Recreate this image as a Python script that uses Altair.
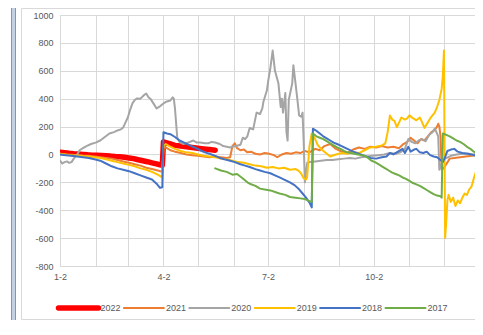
import altair as alt
import pandas as pd

years = ["2022", "2021", "2020", "2019", "2018", "2017"]
colors = ["#FF0000", "#ED7D31", "#A5A5A5", "#FFC000", "#4472C4", "#70AD47"]

# (day offset from Jan-2, value)
s2022 = [(0,15),(4,12),(8,8),(12,5),(16,3),(20,0),(24,-3),(28,-5),(32,-6),(36,-8),(40,-10),(44,-12),
         (48,-15),(52,-17),(56,-20),(60,-25),(64,-30),(68,-38),(72,-45),(76,-52),(80,-60),(84,-68),
         (87,-75),(89,-78),(90,90),(92,85),(96,75),(100,65),(105,60),(110,55),(115,50),(120,45),
         (125,40),(130,35),(135,30)]
s2021 = [(0,5),(5,0),(10,-2),(15,-5),(20,-8),(25,-10),(30,-15),(35,-20),(40,-25),(45,-30),(50,-40),
         (55,-50),(60,-60),(65,-70),(70,-80),(75,-95),(80,-105),(85,-115),(89,-125),(90,60),(93,45),
         (96,30),(100,20),(105,10),(110,0),(115,-5),(120,-10),(125,-15),(130,-20),(135,-15),(140,-20),
         (145,-25),(148,-20),(150,60),(152,80),(154,45),(157,30),(160,35),(163,15),(166,20),(170,5),
         (174,0),(178,10),(182,5),(186,-5),(189,-20),(193,0),(197,10),(201,5),(205,15),(209,10),
         (213,25),(217,15),(222,40),(226,30),(230,60),(235,75),(240,40),(245,20),(250,10),(255,35),
         (260,50),(265,40),(270,55),(275,50),(280,60),(285,50),(290,55),(295,45),(298,70),(302,90),
         (305,120),(308,100),(311,80),(314,110),(317,100),(320,130),(323,160),(326,175),(328,200),
         (329,220),(330,200),(331,130),(332,-110),(334,-95),(336,-70),(339,-30),(343,-25),(348,-20),
         (353,-15),(358,-10),(363,-5)]
s2020 = [(0,-45),(2,-65),(4,-55),(6,-50),(8,-60),(10,-55),(12,-30),(15,0),(17,30),(20,45),(23,60),
         (27,75),(31,85),(35,100),(39,125),(43,150),(47,160),(50,172),(53,180),(55,194),(57,230),
         (59,265),(61,320),(63,366),(65,390),(67,402),(70,400),(73,425),(75,437),(77,410),(79,395),
         (81,370),(84,330),(87,345),(90,366),(93,380),(96,387),(98,409),(99,400),(100,330),(102,120),
         (104,90),(107,75),(110,80),(113,90),(116,100),(119,85),(122,85),(126,80),(129,80),(132,90),
         (135,86),(139,75),(142,60),(145,55),(148,50),(150,55),(153,60),(157,70),(159,120),(161,110),
         (163,130),(165,190),(168,180),(171,300),(174,290),(176,330),(177,380),(180,460),(181,520),
         (183,620),(185,745),(187,600),(190,510),(192,340),(193,400),(194,300),(196,440),(197,160),
         (198,100),(199,390),(202,510),(203,640),(206,430),(208,280),(210,270),(211,300),(212,90),
         (213,-200),(215,-60),(217,-55),(222,-50),(227,-45),(232,-40),(237,-40),(242,-35),(247,-30),
         (252,-25),(257,-30),(262,-20),(267,-15),(272,-10),(277,-5),(282,0),(287,10),(292,5),(296,15),
         (300,40),(303,110),(306,90),(309,80),(312,100),(315,110),(318,95),(321,140),(324,160),
         (326,185),(328,150),(329,130),(330,-110),(332,-60),(335,-30),(340,-10),(345,0),(350,5),
         (355,5),(360,0),(363,5)]
s2019 = [(0,5),(5,0),(10,-5),(15,-8),(20,-12),(25,-15),(30,-20),(35,-25),(40,-35),(45,-45),(50,-55),
         (55,-65),(60,-75),(65,-85),(70,-100),(75,-110),(80,-125),(85,-145),(89,-165),(90,60),(92,75),
         (95,60),(100,40),(105,25),(110,15),(115,10),(120,0),(125,-10),(130,-15),(135,-20),(140,-30),
         (145,-35),(150,-45),(155,-55),(160,-60),(165,-70),(170,-80),(175,-85),(180,-95),(185,-90),
         (190,-100),(195,-95),(200,-110),(205,-105),(208,-120),(210,-140),(212,-170),(214,-180),
         (215,-160),(217,60),(219,150),(222,110),(224,70),(227,40),(230,20),(235,-15),(240,0),(245,10),
         (250,5),(255,15),(260,10),(265,30),(270,50),(275,55),(280,65),(283,80),(285,160),(287,280),
         (289,250),(291,240),(293,195),(295,230),(297,265),(300,250),(302,258),(304,280),(307,260),
         (310,245),(313,265),(315,230),(317,190),(320,230),(322,258),(324,280),(326,300),(328,340),
         (330,390),(332,470),(333,560),(334,745),(335,-600),(336,-480),(337,-330),(338,-290),(340,-340),
         (342,-310),(344,-370),(346,-330),(348,-350),(350,-310),(352,-280),(354,-290),(356,-250),
         (358,-230),(360,-170),(362,-120),(363,-65)]
s2018 = [(0,0),(5,-5),(10,-10),(15,-15),(20,-20),(25,-25),(30,-35),(35,-45),(40,-65),(45,-85),(50,-100),
         (55,-110),(60,-120),(65,-135),(70,-150),(75,-165),(80,-180),(84,-210),(87,-240),(89,-235),
         (90,160),(93,150),(96,145),(100,125),(104,100),(108,85),(113,65),(117,50),(122,30),(126,15),
         (130,5),(135,-10),(139,-25),(143,-35),(148,-45),(152,-55),(157,-70),(161,-80),(165,-90),
         (170,-105),(174,-115),(178,-125),(183,-135),(187,-150),(191,-165),(195,-180),(200,-200),
         (204,-220),(208,-250),(211,-280),(214,-310),(217,-345),(219,-380),(220,185),(223,170),
         (226,150),(229,130),(232,115),(235,100),(238,85),(241,75),(245,60),(250,40),(255,20),(260,5),
         (265,-10),(270,-25),(275,-30),(280,-20),(284,-15),(287,10),(290,0),(294,20),(298,40),(300,10),
         (303,55),(305,20),(308,35),(310,40),(313,15),(316,10),(319,20),(322,-5),(325,-15),(328,-20),
         (331,-40),(333,-55),(335,-20),(337,25),(340,35),(343,40),(346,20),(350,10),(355,5),(360,-5),
         (363,-5)]
s2017 = [(135,-100),(140,-115),(145,-125),(150,-145),(154,-140),(158,-165),(163,-200),(165,-210),
         (170,-225),(174,-245),(177,-250),(183,-258),(189,-275),(191,-280),(196,-290),(200,-305),
         (205,-310),(209,-315),(213,-320),(217,-335),(219,-340),(220,150),(223,130),(226,120),(229,110),
         (232,95),(235,80),(238,65),(241,50),(244,40),(247,25),(250,15),(253,10),(256,5),(259,0),
         (262,-5),(265,-10),(268,-25),(271,-45),(274,-55),(277,-70),(280,-85),(283,-100),(286,-115),
         (289,-130),(292,-140),(295,-150),(298,-165),(301,-175),(304,-190),(307,-205),(310,-215),
         (313,-225),(316,-240),(319,-255),(322,-270),(325,-285),(328,-295),(331,-300),(332,-310),
         (333,150),(336,140),(339,130),(342,115),(345,100),(348,90),(351,75),(354,55),(357,40),
         (360,20),(363,5)]

tick_days = [0, 31, 59, 90, 120, 151, 181, 212, 243, 273, 304, 334]
tick_labels = ["1-2", "", "", "4-2", "", "", "7-2", "", "", "10-2", "", ""]
y_ticks = [-800, -600, -400, -200, 0, 200, 400, 600, 800, 1000]

series = dict(zip(years, [s2022, s2021, s2020, s2019, s2018, s2017]))
rows = []
for yr in years:
    for d, v in series[yr]:
        rows.append({"year": yr, "day": d, "value": v})
df = pd.DataFrame(rows)
leg_df = pd.DataFrame({"year": years})

label_expr = " : ".join(
    f"datum.value == {d} ? '{l}'" for d, l in zip(tick_days, tick_labels) if l
) + " : ''"

FONT = "Liberation Sans"
TXT = "#595959"
GRID = "#d9d9d9"
color_scale = alt.Scale(domain=years, range=colors)
thick = alt.condition(alt.datum.year == "2022", alt.value(5.5), alt.value(2))

lines = alt.Chart(df).mark_line(strokeJoin="round", strokeCap="round", clip=True).encode(
    x=alt.X("day:Q",
            scale=alt.Scale(domain=[0, 361], nice=False, zero=False),
            axis=alt.Axis(values=tick_days, labelExpr=label_expr, title=None, grid=True,
                          gridColor=GRID, ticks=False, domain=False, labelOverlap=False,
                          labelPadding=6, labelFlush=False, labelFont=FONT, labelFontSize=9,
                          labelColor=TXT)),
    y=alt.Y("value:Q",
            scale=alt.Scale(domain=[-800, 1000], nice=False),
            axis=alt.Axis(values=y_ticks, labelExpr="datum.value + ''", title=None, grid=True,
                          gridColor=GRID, ticks=False, domain=False, labelPadding=7,
                          labelFont=FONT, labelFontSize=9, labelColor=TXT)),
    color=alt.Color("year:N", scale=color_scale, sort=years, legend=None),
    strokeWidth=thick,
)

leg_x = alt.X("year:N", sort=years,
              scale=alt.Scale(type="point", domain=years, range=[18.5, 345.5], padding=0),
              axis=None)
leg_sym = alt.Chart(leg_df).mark_point(shape="stroke", size=1600, filled=False, opacity=1,
                                       strokeCap="round").encode(
    x=leg_x, y=alt.value(293),
    color=alt.Color("year:N", scale=color_scale, legend=None),
    strokeWidth=thick,
)
leg_txt = alt.Chart(leg_df).mark_text(align="left", baseline="middle", dx=22, font=FONT,
                                      fontSize=9, color=TXT).encode(
    x=leg_x, y=alt.value(293), text="year:N")

deco = pd.DataFrame({"k": [0]})
frame = alt.Chart(deco).mark_rect(fillOpacity=0, stroke="#d9d9d9", strokeWidth=1).encode(
    x=alt.value(-38.5), x2=alt.value(440), y=alt.value(-6.5), y2=alt.value(304.5))
edge = alt.Chart(deco).mark_rect(fill="#c3cfe2", stroke="#8296b8", strokeWidth=1).encode(
    x=alt.value(-48.5), x2=alt.value(-44.5), y=alt.value(-8), y2=alt.value(310))

chart = alt.layer(frame, edge, lines, leg_sym, leg_txt).resolve_scale(x="independent").properties(
    width=415, height=251,
    autosize=alt.AutoSizeParams(type="none"),
    padding={"left": 52, "top": 7, "right": 0, "bottom": 54},
).configure_view(stroke=None).configure(background="white")

chart.save("out.html", embed_options={"renderer": "svg", "actions": False})
